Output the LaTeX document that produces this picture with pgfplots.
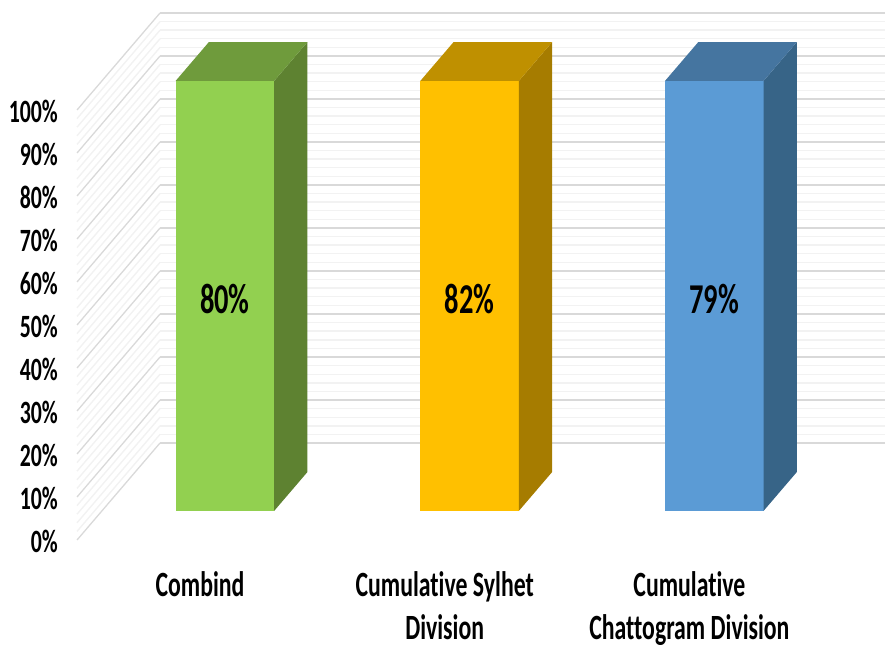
\documentclass[border=0pt]{standalone}
\usepackage{fontspec}
\usepackage{pgfplots}
\pgfplotsset{compat=1.18}
\newfontfamily\labelfont[FakeStretch=0.67,Ligatures=NoCommon]{Carlito Bold}
\definecolor{greenF}{HTML}{92D050}\definecolor{greenT}{HTML}{6F9B3C}\definecolor{greenS}{HTML}{5E8231}
\definecolor{amberF}{HTML}{FFC000}\definecolor{amberT}{HTML}{BF9000}\definecolor{amberS}{HTML}{A67C00}
\definecolor{blueF}{HTML}{5B9BD5}\definecolor{blueT}{HTML}{4575A0}\definecolor{blueS}{HTML}{376487}
\begin{document}
\begin{tikzpicture}
\clip[use as bounding box] (0pt,0pt) rectangle (885pt,648pt);
\begin{axis}[
  at={(200pt,108pt)}, anchor=origin,
  x={(244.7pt,0pt)}, y={(83pt,97pt)}, z={(0pt,4.3pt)},
  xmin=-0.5026, xmax=2.5, ymin=0, ymax=1, zmin=0, zmax=100,
  clip=false,
  axis line style={draw=none},
  tick style={draw=none},
  major tick length=0pt, minor tick length=0pt,
  xtick={0,1,2},
  xticklabels={Combind,Cumulative Sylhet\\Division,Cumulative\\Chattogram Division},
  xticklabel style={font=\labelfont\fontsize{35.5}{43}\selectfont, align=center, anchor=north, yshift=-31pt, inner sep=0pt},
  ytick=\empty,
  ztick={0,10,...,100},
  zticklabels={0\%,10\%,20\%,30\%,40\%,50\%,60\%,70\%,80\%,90\%,100\%},
  zticklabel style={font=\labelfont\fontsize{32.5}{34}\selectfont, anchor=east, inner sep=0pt, xshift=-19pt, yshift=-1.5pt},
  minor z tick num=4,
  zmajorgrids, zminorgrids,
  major z grid style={draw=black!15, line width=1.3pt},
  minor z grid style={draw=black!5, line width=1.4pt},
  every axis plot/.append style={draw=none, mark=none, forget plot},
]
% Each column is one share stacked to the full 100% of the axis.
% Combind
\addplot3[fill=greenF] coordinates {(-0.2013,0.30,0) (0.2013,0.30,0) (0.2013,0.30,100) (-0.2013,0.30,100)};
\addplot3[fill=greenS] coordinates {(0.2013,0.30,0) (0.2013,0.70,0) (0.2013,0.70,100) (0.2013,0.30,100)};
\addplot3[fill=greenT] coordinates {(-0.2013,0.30,100) (0.2013,0.30,100) (0.2013,0.70,100) (-0.2013,0.70,100)};
% Cumulative Sylhet Division
\addplot3[fill=amberF] coordinates {(0.7987,0.30,0) (1.2013,0.30,0) (1.2013,0.30,100) (0.7987,0.30,100)};
\addplot3[fill=amberS] coordinates {(1.2013,0.30,0) (1.2013,0.70,0) (1.2013,0.70,100) (1.2013,0.30,100)};
\addplot3[fill=amberT] coordinates {(0.7987,0.30,100) (1.2013,0.30,100) (1.2013,0.70,100) (0.7987,0.70,100)};
% Cumulative Chattogram Division
\addplot3[fill=blueF] coordinates {(1.7987,0.30,0) (2.2013,0.30,0) (2.2013,0.30,100) (1.7987,0.30,100)};
\addplot3[fill=blueS] coordinates {(2.2013,0.30,0) (2.2013,0.70,0) (2.2013,0.70,100) (2.2013,0.30,100)};
\addplot3[fill=blueT] coordinates {(1.7987,0.30,100) (2.2013,0.30,100) (2.2013,0.70,100) (1.7987,0.70,100)};
% Value labels on the front faces
\addplot3[only marks, mark=none, point meta=explicit symbolic,
  nodes near coords, nodes near coords align={anchor=center},
  every node near coord/.append style={font=\labelfont\fontsize{42.5}{44}\selectfont, text=black, inner sep=0pt}]
  coordinates {(0,0.30,49.2) [80\%] (1,0.30,49.2) [82\%] (2,0.30,49.2) [79\%]};
\end{axis}
\end{tikzpicture}
\end{document}
